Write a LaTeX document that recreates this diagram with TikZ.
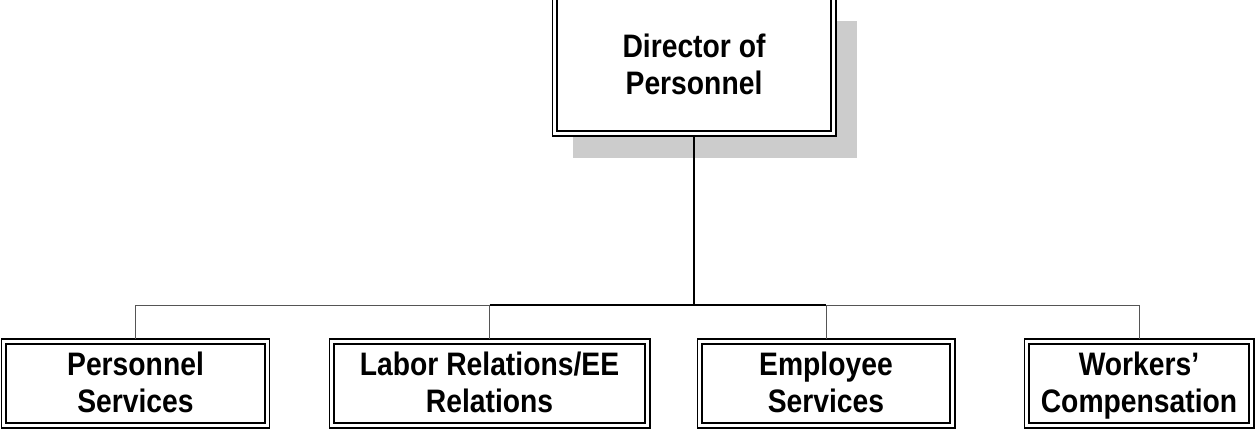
\documentclass[tikz,border=0pt]{standalone}
\usepackage{fontspec}
\setmainfont{Liberation Sans}[FakeStretch=0.87]
\definecolor{orgInk}{HTML}{000000}
\definecolor{orgRule}{HTML}{555555}
\definecolor{orgShadow}{HTML}{CCCCCC}
\usetikzlibrary{
	positioning,
	calc
}
\tikzset{
	unidad/.style={
		draw=orgInk,
		line width=0.6pt,
		fill=white,
		align=center,
		inner sep=0pt,
		outer sep=0pt,
		text depth=1pt,
		font=\fontsize{18.5}{21}\selectfont\bfseries,
		path picture={
			\draw[orgInk, line width=1.1pt]
				([shift={(2.6pt,-2.6pt)}]path picture bounding box.north west)
				rectangle ([shift={(-2.6pt,2.6pt)}]path picture bounding box.south east);
		}
	},
	sombra/.style={
		fill=orgShadow,
		draw=none
	},
	tronco/.style={
		orgInk,
		line width=1.1pt
	},
	rama/.style={
		orgRule,
		line width=0.5pt
	}
}

\begin{document}
\begin{tikzpicture}[x=0.02cm, y=-0.02cm]
		\clip (0,0) rectangle (1255,429);
		% sombra de la direccion
		\fill[sombra] (573,21) rectangle (857,158);
		\node[unidad, minimum width=5.68cm, minimum height=2.84cm] (director) at (694,65) {Director of\\Personnel};
		% unidades dependientes
		\node[unidad, minimum width=5.36cm, minimum height=1.78cm] (personal) at (135.5,383.5) {Personnel\\Services};
		\node[unidad, minimum width=6.42cm, minimum height=1.78cm] (laboral) at (489.5,383.5) {Labor Relations/EE\\Relations};
		\node[unidad, minimum width=5.16cm, minimum height=1.78cm] (empleados) at (826,383.5) {Employee\\Services};
		\node[unidad, minimum width=4.60cm, minimum height=1.78cm] (compensacion) at (1139,383.5) {Workers'\\Compensation};
		\coordinate (barra) at (693,305);
		\foreach \u in {personal,laboral,empleados,compensacion}{
			\draw[rama] (barra) -| (\u.north);
		}
		\draw[tronco] (director.south) -- (director.south |- barra);
		\draw[tronco] (laboral.north |- barra) -- (empleados.north |- barra);
	\end{tikzpicture}
\end{document}
